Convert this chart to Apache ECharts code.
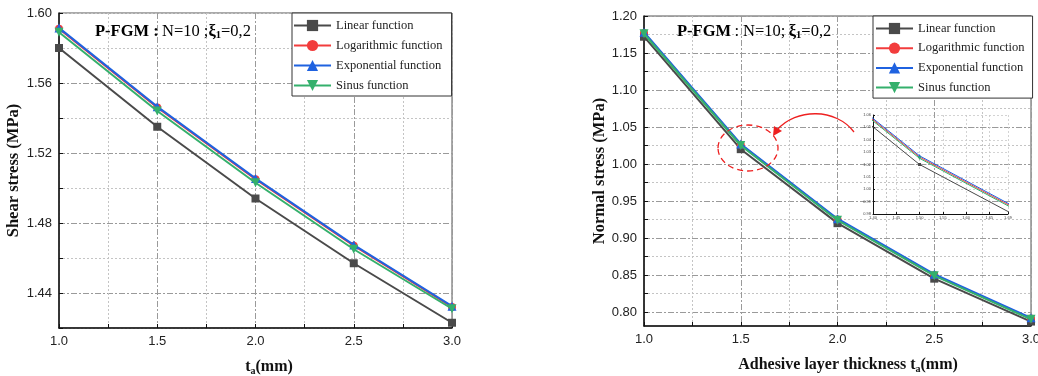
<!DOCTYPE html>
<html>
<head>
<meta charset="utf-8">
<script src="https://cdn.jsdelivr.net/npm/echarts@6/dist/echarts.min.js"></script>
<style>
  html, body { margin: 0; padding: 0; background: #fff; }
  #chart { width: 1038px; height: 376px; }
</style>
</head>
<body>
<div id="chart"></div>
<script>
// adhesive layer thickness (mm)
const thickness = [1.0, 1.5, 2.0, 2.5, 3.0]

// shear stress (MPa), N=10, xi1=0.2
const shearLinear = [1.580, 1.535, 1.494, 1.457, 1.423]
const shearLog = [1.591, 1.546, 1.505, 1.467, 1.432]
const shearExp = [1.5915, 1.5465, 1.5055, 1.4675, 1.4325]
const shearSinus = [1.589, 1.544, 1.503, 1.465, 1.431]

// normal stress (MPa)
const normalLinear = [1.172, 1.020, 0.920, 0.845, 0.787]
const normalLog = [1.177, 1.026, 0.925, 0.850, 0.791]
const normalExp = [1.178, 1.027, 0.926, 0.851, 0.792]
const normalSinus = [1.176, 1.025, 0.924, 0.849, 0.790]

const seriesNames = ['Linear function', 'Logarithmic function', 'Exponential function', 'Sinus function']

// tick values
const normalLabelTicks = [0.80, 0.85, 0.90, 0.95, 1.00, 1.05, 1.10, 1.15, 1.20]
const normalAllTicks = [0.80, 0.825, 0.85, 0.875, 0.90, 0.925, 0.95, 0.975, 1.00, 1.025,
  1.05, 1.075, 1.10, 1.125, 1.15, 1.175, 1.20]

const serif = 'Liberation Serif'
const sans = 'Liberation Sans'
const colors = ['#4a4a4a', '#f23c3c', '#1f62e0', '#34b06c']
const symbols = ['rect', 'circle', 'triangle', 'triangle']
const rotates = [0, 0, 0, 180]

const minorLine = { show: true, lineStyle: { color: '#c4c4c4', type: [2, 2], width: 1 } }
const majorLine = { show: true, lineStyle: { color: '#9a9a9a', type: [6, 2, 2, 2], width: 1 } }

const pair = (vals) => thickness.map((t, i) => [t, vals[i]])

function mainX(gridIndex, nameText, padLeft) {
  return {
    type: 'value', gridIndex, min: 1, max: 3, interval: 0.25,
    axisLine: { lineStyle: { color: '#111', width: 1.5 } },
    axisTick: { inside: true, length: 4, lineStyle: { color: '#111' } },
    axisLabel: {
      margin: 7, color: '#222', fontFamily: sans, fontSize: 13,
      formatter: (v) => (Math.round(v * 100) % 50 === 0 ? v.toFixed(1) : ''),
    },
    splitLine: minorLine,
    name: nameText,
    nameLocation: 'middle',
    nameGap: 30,
    nameTextStyle: {
      padding: [0, 0, 0, padLeft],
      rich: {
        t: { fontFamily: serif, fontWeight: 'bold', fontSize: 16, color: '#111' },
        s: { fontFamily: serif, fontWeight: 'bold', fontSize: 10, color: '#111', padding: [8, 0, 0, 0] },
      },
    },
  }
}

function overlayX(gridIndex) {
  return {
    type: 'value', gridIndex, min: 1, max: 3, interval: 0.5,
    axisLine: { show: false }, axisTick: { show: false }, axisLabel: { show: false },
    splitLine: majorLine,
  }
}

const annoRich = {
  a: { fontFamily: serif, fontWeight: 'bold', fontSize: 16.5, color: '#7d1414' },
  b: { fontFamily: serif, fontSize: 16.5, color: '#111' },
  c: { fontFamily: serif, fontWeight: 'bold', fontSize: 16.5, color: '#111' },
  d: { fontFamily: serif, fontWeight: 'bold', fontSize: 10.5, color: '#111', padding: [8, 0, 0, 0] },
}

const option = {
  animation: false,
  backgroundColor: '#fff',
  grid: [
    { left: 59, top: 13, right: 586, bottom: 48, show: true, borderColor: '#555', borderWidth: 1, outerBoundsMode: 'none' },
    { left: 644, top: 16, right: 7, bottom: 50, show: true, borderColor: '#555', borderWidth: 1, outerBoundsMode: 'none' },
    { left: 873, top: 115, right: 30, bottom: 162, outerBoundsMode: 'none' },
  ],
  legend: [
    {
      data: seriesNames, orient: 'vertical', left: 292, top: 13,
      itemWidth: 37, itemHeight: 14, itemGap: 7, padding: [6, 9, 4, 1],
      borderColor: '#333', borderWidth: 1, backgroundColor: '#fff',
      textStyle: { fontFamily: serif, fontSize: 12.5, color: '#222' },
    },
    {
      data: seriesNames, orient: 'vertical', left: 873, top: 16,
      itemWidth: 37, itemHeight: 14, itemGap: 6.7, padding: [6, 8, 4, 2],
      borderColor: '#333', borderWidth: 1, backgroundColor: '#fff',
      textStyle: { fontFamily: serif, fontSize: 12.5, color: '#222' },
    },
  ],
  xAxis: [
    mainX(0, '{t|t}{s|a}{t|(mm)}', 27),
    mainX(1, '{t|Adhesive layer thickness t}{s|a}{t|(mm)}', 21),
    {
      type: 'value', gridIndex: 2, min: 1.4, max: 1.69, interval: 0.05,
      axisLine: { lineStyle: { color: '#111', width: 1 } },
      axisTick: { inside: true, length: 2, lineStyle: { color: '#111' } },
      axisLabel: { margin: 2, fontSize: 4, color: '#444', fontFamily: sans, formatter: (v) => v.toFixed(2) },
      splitLine: { show: true, lineStyle: { color: '#c8c8c8', type: [2, 2], width: 0.8 } },
    },
    overlayX(0),
    overlayX(1),
  ],
  yAxis: [
    {
      type: 'value', gridIndex: 0, min: 1.42, max: 1.60, interval: 0.02,
      axisLine: { show: true, lineStyle: { color: '#111', width: 1.5 } },
      axisTick: { show: true, inside: true, length: 4, lineStyle: { color: '#111' } },
      axisLabel: {
        margin: 7, color: '#222', fontFamily: sans, fontSize: 13,
        formatter: (v) => (Math.round(v * 100) % 4 === 0 ? v.toFixed(2) : ''),
      },
      splitLine: minorLine,
      name: 'Shear stress (MPa)', nameLocation: 'middle', nameGap: 37,
      nameTextStyle: { fontFamily: serif, fontWeight: 'bold', fontSize: 16.5, color: '#111' },
    },
    {
      type: 'value', gridIndex: 1, min: 0.781, max: 1.20,
      axisLine: { show: true, lineStyle: { color: '#111', width: 1.5 } },
      axisTick: { show: true, inside: true, length: 4, lineStyle: { color: '#111' }, customValues: normalAllTicks },
      axisLabel: {
        margin: 7, color: '#222', fontFamily: sans, fontSize: 13,
        customValues: normalLabelTicks, formatter: (v) => v.toFixed(2),
      },
      splitLine: minorLine,
      name: 'Normal stress (MPa)', nameLocation: 'middle', nameGap: 36,
      nameTextStyle: { fontFamily: serif, fontWeight: 'bold', fontSize: 16.5, color: '#111' },
    },
    {
      type: 'value', gridIndex: 2, min: 0.98, max: 1.06, interval: 0.01,
      axisLine: { show: true, lineStyle: { color: '#111', width: 1 } },
      axisTick: { show: true, inside: true, length: 2, lineStyle: { color: '#111' } },
      axisLabel: { margin: 2, fontSize: 4, color: '#444', fontFamily: sans, formatter: (v) => v.toFixed(2) },
      splitLine: { show: true, lineStyle: { color: '#c8c8c8', type: [2, 2], width: 0.8 } },
    },
    {
      type: 'value', gridIndex: 0, min: 1.42, max: 1.60,
      axisLine: { show: false }, axisLabel: { show: false },
      axisTick: { show: false, customValues: [1.44, 1.48, 1.52, 1.56] },
      splitLine: majorLine,
    },
    {
      type: 'value', gridIndex: 1, min: 0.781, max: 1.20,
      axisLine: { show: false }, axisLabel: { show: false },
      axisTick: { show: false, customValues: normalLabelTicks },
      splitLine: majorLine,
    },
  ],
  series: [],
  graphic: [
    {
      type: 'text', left: 95, top: 23, z: 10,
      style: { text: '{a|P-FGM :} {b|N=10 ;}{c|ξ}{d|1}{b|=0,2}', rich: annoRich },
    },
    {
      type: 'text', left: 677, top: 23, z: 10,
      style: { text: '{a|P-FGM} {b|: N=10;} {c|ξ}{d|1}{b|=0,2}', rich: annoRich },
    },
    {
      type: 'ellipse', z: 10,
      shape: { cx: 748, cy: 148, rx: 30, ry: 23 },
      style: { fill: 'none', stroke: '#ee2020', lineWidth: 1.3, lineDash: [6, 4] },
    },
    {
      type: 'bezierCurve', z: 10,
      shape: { x1: 854, y1: 132, cpx1: 836, cpy1: 108, cpx2: 796, cpy2: 108, x2: 777, y2: 130 },
      style: { fill: 'none', stroke: '#ee2020', lineWidth: 1.3 },
    },
    {
      type: 'polygon', z: 10,
      shape: { points: [[773, 136], [774, 126], [782, 131]] },
      style: { fill: '#ee2020' },
    },
  ],
}

const shearSets = [shearLinear, shearLog, shearExp, shearSinus]
const normalSets = [normalLinear, normalLog, normalExp, normalSinus]

function addSeries(sets, axisIndex, lineWidth, symbolSize) {
  sets.forEach((vals, i) => {
    option.series.push({
      name: seriesNames[i], type: 'line',
      xAxisIndex: axisIndex, yAxisIndex: axisIndex,
      data: pair(vals),
      color: colors[i],
      symbol: symbols[i], symbolRotate: rotates[i], symbolSize: symbolSize[i],
      lineStyle: { width: lineWidth },
      itemStyle: { color: colors[i] },
      emphasis: { disabled: true },
      z: 3 + i,
    })
  })
}

addSeries(shearSets, 0, 2, [8, 8, 9, 9])
addSeries(normalSets, 1, 2, [8, 8, 9, 9])
addSeries(normalSets, 2, 1, [3, 3, 3.5, 3.5])

const myChart = echarts.init(document.getElementById('chart'), null, { renderer: 'canvas' })
myChart.setOption(option)
</script>
</body>
</html>
